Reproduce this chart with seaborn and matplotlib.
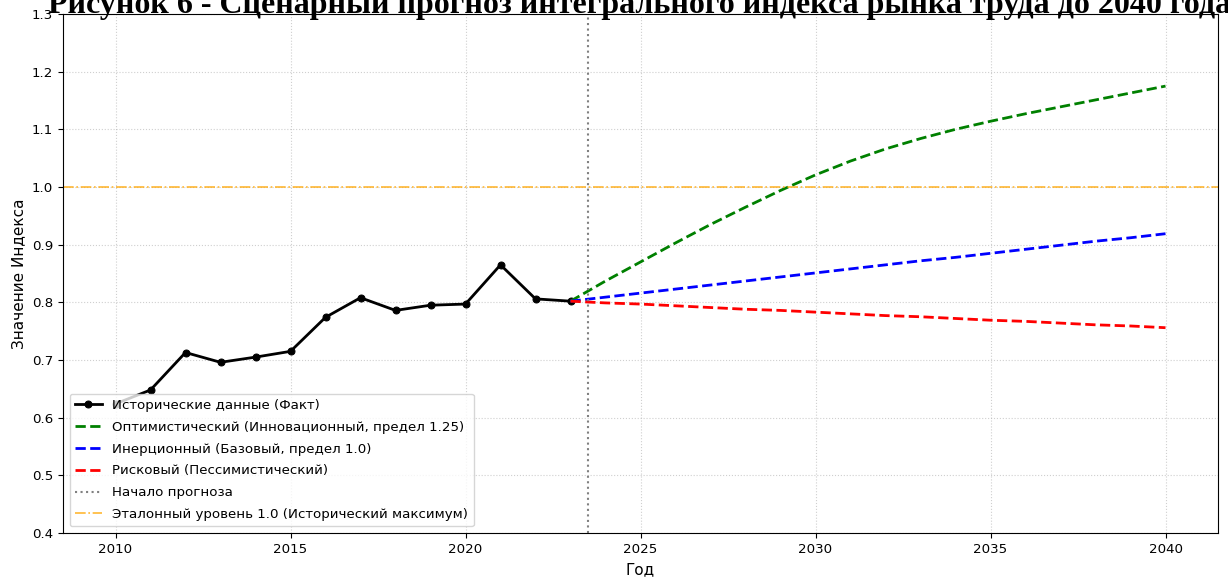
import matplotlib
matplotlib.use("Agg")
import matplotlib.pyplot as plt
import seaborn as sns
import pandas as pd

hist_years = [2010, 2011, 2012, 2013, 2014, 2015, 2016, 2017, 2018, 2019, 2020, 2021, 2022, 2023]
hist_values = [0.624, 0.648, 0.713, 0.696, 0.705, 0.715, 0.774, 0.808, 0.786, 0.795, 0.797, 0.865, 0.806, 0.802]

fc_years = list(range(2023, 2041))
optimistic = [0.802, 0.837, 0.870, 0.903, 0.935, 0.965, 0.994, 1.021, 1.045, 1.066,
              1.084, 1.100, 1.114, 1.127, 1.139, 1.151, 1.163, 1.175]
inertial = [0.802, 0.809, 0.816, 0.823, 0.830, 0.837, 0.844, 0.851, 0.858, 0.865,
            0.872, 0.878, 0.885, 0.892, 0.899, 0.906, 0.912, 0.919]
risky = [0.802, 0.799, 0.797, 0.794, 0.791, 0.788, 0.786, 0.783, 0.780, 0.777,
         0.775, 0.772, 0.769, 0.767, 0.764, 0.761, 0.759, 0.756]

forecast_start = 2023.5
reference_level = 1.0

title = "Рисунок 6 - Сценарный прогноз интегрального индекса рынка труда до 2040 года"
labels = ["Исторические данные (Факт)",
          "Оптимистический (Инновационный, предел 1.25)",
          "Инерционный (Базовый, предел 1.0)",
          "Рисковый (Пессимистический)",
          "Начало прогноза",
          "Эталонный уровень 1.0 (Исторический максимум)"]

plt.rcParams['font.family'] = ['DejaVu Sans']
plt.rcParams['font.size'] = 9.6

fig = plt.figure(figsize=(12.28, 5.8), dpi=100)
ax = fig.add_axes([63 / 1228, 1 - 533 / 580, (1218 - 63) / 1228, (533 - 14) / 580])

hist_df = pd.DataFrame({"year": hist_years, "value": hist_values})
fc_df = pd.DataFrame({"year": fc_years, "opt": optimistic, "inr": inertial, "risk": risky})

sns.lineplot(data=hist_df, x="year", y="value", ax=ax, color="black", marker="o",
             markersize=5, linewidth=2, label=labels[0], markeredgecolor="black")
sns.lineplot(data=fc_df, x="year", y="opt", ax=ax, color="green", linestyle="--",
             linewidth=2, label=labels[1])
sns.lineplot(data=fc_df, x="year", y="inr", ax=ax, color="blue", linestyle="--",
             linewidth=2, label=labels[2])
sns.lineplot(data=fc_df, x="year", y="risk", ax=ax, color="red", linestyle="--",
             linewidth=2, label=labels[3])
ax.axvline(forecast_start, color="gray", linestyle=":", linewidth=1.5, label=labels[4])
ax.axhline(reference_level, color="orange", linestyle="-.", linewidth=1.2, alpha=0.8,
           label=labels[5])

ax.set_xlim(2008.5, 2041.5)
ax.set_ylim(0.4, 1.3)
ax.set_xticks([2010, 2015, 2020, 2025, 2030, 2035, 2040])
ax.set_yticks([0.4, 0.5, 0.6, 0.7, 0.8, 0.9, 1.0, 1.1, 1.2, 1.3])
ax.tick_params(labelsize=9.6)
ax.set_xlabel("Год", fontsize=11, labelpad=5)
ax.set_ylabel("Значение Индекса", fontsize=11, labelpad=4)
ax.grid(True, linestyle=":", alpha=0.6)
ax.legend(loc="lower left", fontsize=9.6, labelspacing=0.66)

t = fig.text(48 / 1228, 1 - 13 / 580, title, fontsize=20, fontweight="bold",
             family=["Liberation Serif", "DejaVu Serif"], va="baseline", ha="left")
fig.canvas.draw()
w = t.get_window_extent().width
t.set_fontsize(20 * 1183 / w)

fig.savefig("out.png", dpi=100)
